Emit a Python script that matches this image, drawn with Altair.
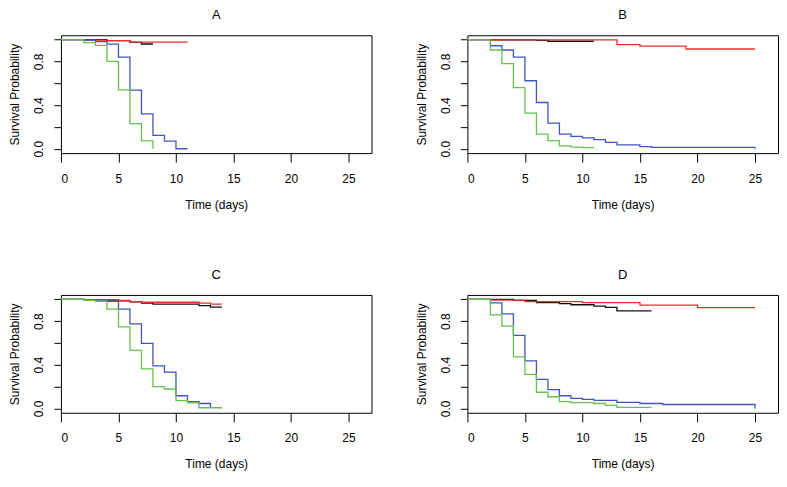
import altair as alt
import pandas as pd

FONT = "Liberation Sans"

panels = ["A", "B", "C", "D"]
groups = ["Group 1", "Group 2", "Group 3", "Group 4"]
colors = ["#111111", "#e8302a", "#4255bd", "#66c24a"]

# ---- Panel A ----
A_black_t = [0, 4, 6, 7, 8]
A_black_s = [1.0, 0.99, 0.975, 0.96, 0.96]
A_red_t = [0, 2, 4, 6, 11]
A_red_s = [1.0, 0.995, 0.99, 0.977, 0.977]
A_blue_t = [0, 2, 3, 4, 5, 6, 7, 8, 9, 10, 11]
A_blue_s = [1.0, 0.995, 0.982, 0.959, 0.84, 0.537, 0.32, 0.122, 0.069, 0.0, 0.0]
A_green_t = [0, 2, 3, 4, 5, 6, 7, 8]
A_green_s = [1.0, 0.973, 0.948, 0.80, 0.54, 0.231, 0.072, 0.0]

# ---- Panel B ----
B_black_t = [0, 2, 6, 7, 11]
B_black_s = [1.0, 0.998, 0.994, 0.985, 0.985]
B_red_t = [0, 2, 13, 15, 19, 25]
B_red_s = [1.0, 0.997, 0.955, 0.94, 0.914, 0.914]
B_blue_t = [0, 2, 3, 4, 5, 6, 7, 8, 9, 10, 11, 12, 13, 15, 16, 25]
B_blue_s = [1.0, 0.944, 0.905, 0.84, 0.623, 0.424, 0.234, 0.134, 0.113, 0.10, 0.083, 0.059, 0.036, 0.02, 0.012, 0.0]
B_green_t = [0, 2, 3, 4, 5, 6, 7, 8, 9, 10, 11]
B_green_s = [1.0, 0.905, 0.78, 0.56, 0.326, 0.134, 0.074, 0.027, 0.015, 0.01, 0.01]

# ---- Panel C ----
C_black_t = [0, 2, 4, 6, 7, 8, 12, 13, 14]
C_black_s = [1.0, 0.997, 0.985, 0.976, 0.964, 0.955, 0.942, 0.928, 0.928]
C_red_t = [0, 2, 5, 6, 7, 12, 13, 14]
C_red_s = [1.0, 0.996, 0.99, 0.979, 0.973, 0.964, 0.955, 0.955]
C_blue_t = [0, 2, 3, 4, 5, 6, 7, 8, 9, 10, 11, 12, 13]
C_blue_s = [1.0, 0.997, 0.99, 0.982, 0.91, 0.774, 0.596, 0.389, 0.332, 0.116, 0.062, 0.045, 0.01]
C_green_t = [0, 2, 3, 4, 5, 6, 7, 8, 9, 10, 11, 12, 14]
C_green_s = [1.0, 0.99, 0.982, 0.91, 0.748, 0.531, 0.362, 0.199, 0.178, 0.071, 0.05, 0.006, 0.006]

# ---- Panel D ----
D_black_t = [0, 4, 6, 8, 9, 11, 12, 13, 16]
D_black_s = [1.0, 0.991, 0.97, 0.961, 0.95, 0.938, 0.926, 0.893, 0.893]
D_red_t = [0, 2, 5, 10, 15, 20, 25]
D_red_s = [1.0, 0.993, 0.979, 0.97, 0.947, 0.923, 0.923]
D_blue_t = [0, 2, 3, 4, 5, 6, 7, 8, 9, 10, 11, 13, 15, 17, 25]
D_blue_s = [1.0, 0.967, 0.866, 0.67, 0.435, 0.267, 0.172, 0.116, 0.092, 0.083, 0.074, 0.056, 0.045, 0.036, 0.0]
D_green_t = [0, 2, 3, 4, 5, 6, 7, 8, 9, 11, 12, 13, 16]
D_green_s = [1.0, 0.858, 0.754, 0.472, 0.312, 0.148, 0.107, 0.062, 0.053, 0.045, 0.027, 0.009, 0.009]

x_ticks = [0, 5, 10, 15, 20, 25]
y_ticks = [0.0, 0.2, 0.4, 0.6, 0.8, 1.0]

series = {
    "A": [(A_black_t, A_black_s), (A_red_t, A_red_s), (A_blue_t, A_blue_s), (A_green_t, A_green_s)],
    "B": [(B_black_t, B_black_s), (B_red_t, B_red_s), (B_blue_t, B_blue_s), (B_green_t, B_green_s)],
    "C": [(C_black_t, C_black_s), (C_red_t, C_red_s), (C_blue_t, C_blue_s), (C_green_t, C_green_s)],
    "D": [(D_black_t, D_black_s), (D_red_t, D_red_s), (D_blue_t, D_blue_s), (D_green_t, D_green_s)],
}

rows = []
for p in panels:
    for g, (ts, ss) in zip(groups, series[p]):
        for i, (t, s) in enumerate(zip(ts, ss)):
            rows.append({"panel": p, "group": g, "t": t, "s": s, "i": i})
df = pd.DataFrame(rows)


def panel_chart(p):
    return (
        alt.Chart(df)
        .transform_filter(alt.datum.panel == p)
        .mark_line(interpolate="step-after", strokeWidth=1.3)
        .encode(
            x=alt.X(
                "t:Q",
                scale=alt.Scale(domain=[0, 27], nice=False, zero=False),
                axis=alt.Axis(values=x_ticks, title="Time (days)", format="d"),
            ),
            y=alt.Y(
                "s:Q",
                scale=alt.Scale(domain=[-0.04, 1.04], nice=False, zero=False),
                axis=alt.Axis(
                    values=y_ticks,
                    title="Survival Probability",
                    labelExpr="(round(datum.value*10) % 4 == 0) ? format(datum.value, '.1f') : ''",
                    labelAngle=270,
                    labelAlign="center",
                    labelBaseline="bottom",
                    tickSize=7,
                    labelPadding=8,
                    titlePadding=11,
                ),
            ),
            color=alt.Color(
                "group:N",
                scale=alt.Scale(domain=groups, range=colors),
                legend=None,
            ),
            order="i:Q",
        )
        .properties(width=311, height=118, title=p)
    )


chart = (
    alt.concat(
        *[panel_chart(p) for p in panels],
        columns=2,
        spacing={"row": 142, "column": 96},
        bounds="flush",
    )
    .properties(padding=0)
    .configure_view(stroke="black", strokeWidth=1)
    .configure_axis(
        domain=False,
        grid=False,
        tickColor="black",
        tickWidth=1,
        labelColor="black",
        titleColor="black",
        labelFont=FONT,
        titleFont=FONT,
        labelFontSize=12,
        titleFontSize=12,
        titleFontWeight="normal",
    )
    .configure_axisX(tickSize=9, labelPadding=11, titlePadding=15)
    .configure_title(font=FONT, fontSize=13, fontWeight="normal", color="black", offset=13, anchor="middle")
)

chart.save("out.html", embed_options={"renderer": "svg", "actions": False})
